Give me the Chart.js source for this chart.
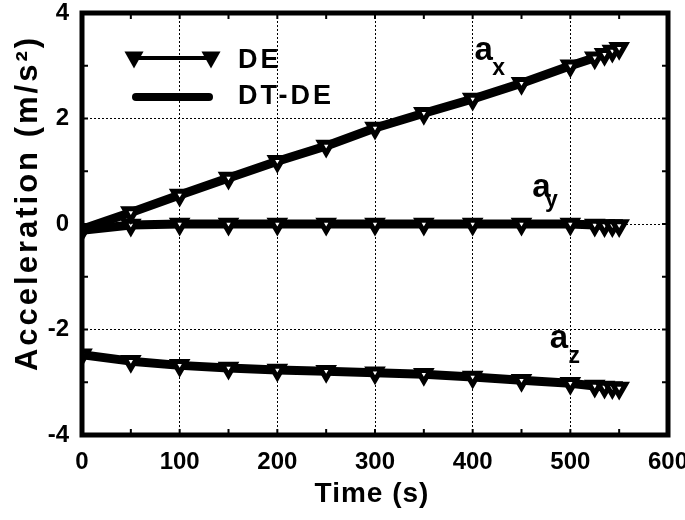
<!DOCTYPE html>
<html>
<head>
<meta charset="utf-8">
<script src="https://cdn.jsdelivr.net/npm/chart.js@4/dist/chart.umd.min.js"></script>
<style>
  html, body { margin: 0; padding: 0; background: #fff; }
</style>
</head>
<body>
<canvas id="myChart" width="685" height="520"></canvas>
<script>
const FONT = "'Liberation Sans', Arial, Helvetica, sans-serif";

// time samples (s) where the DE markers sit; the DT-DE curve runs through the same values
const time = [0, 50, 100, 150, 200, 250, 300, 350, 400, 450, 500, 525, 535, 543, 550];
const ax = [-0.1, 0.22, 0.55, 0.87, 1.19, 1.48, 1.82, 2.1, 2.37, 2.67, 3.0, 3.15, 3.22, 3.28, 3.33];
const ay = [-0.12, -0.02, 0, 0, 0, 0, 0, 0, 0, 0, 0, -0.02, -0.03, -0.03, -0.03];
const az = [-2.48, -2.6, -2.68, -2.73, -2.77, -2.79, -2.82, -2.85, -2.9, -2.96, -3.02, -3.07, -3.09, -3.1, -3.11];

const xTicks = [0, 100, 200, 300, 400, 500, 600];
const yTicks = [-4, -2, 0, 2, 4];
const seriesNames = ["DE", "DT-DE"];
const components = ["x", "y", "z"];

// where the a_x / a_y / a_z labels go, in data units
const labelSpots = [
  { x: 402, y: 3.11, sx: 420, sy: 2.82 },
  { x: 461, y: 0.51, sx: 474, sy: 0.32 },
  { x: 479, y: -2.35, sx: 498, sy: -2.64 },
];

function pts(ys) {
  return time.map((t, i) => ({ x: t, y: ys[i] }));
}

const comps = [ax, ay, az];
const datasets = [];
comps.forEach((c) => {
  datasets.push({
    label: seriesNames[0],
    data: pts(c),
    borderColor: "#000",
    borderWidth: 3,
    pointStyle: "triangle",
    rotation: 180,
    pointRadius: 7.5,
    pointBorderWidth: 5,
    pointBackgroundColor: "#fff",
    pointBorderColor: "#000",
    tension: 0,
    order: 0,
  });
});
comps.forEach((c) => {
  datasets.push({
    label: seriesNames[1],
    data: pts(c),
    borderColor: "#000",
    borderWidth: 9,
    borderCapStyle: "round",
    borderJoinStyle: "round",
    pointRadius: 0,
    tension: 0,
    order: 1,
  });
});

function downTri(ctx, cx, cy, w, h) {
  ctx.beginPath();
  ctx.moveTo(cx - w / 2, cy - h / 2);
  ctx.lineTo(cx + w / 2, cy - h / 2);
  ctx.lineTo(cx, cy + h / 2);
  ctx.closePath();
  ctx.fill();
}

function noPad(s) {
  s.paddingLeft = 0; s.paddingRight = 0; s.paddingTop = 0; s.paddingBottom = 0;
}

const extras = {
  id: "extras",
  afterDatasetsDraw(chart) {
    const { ctx, chartArea: a, scales } = chart;
    const x = scales.x, y = scales.y;
    ctx.save();
    ctx.strokeStyle = "#000";
    ctx.fillStyle = "#000";

    // small inward ticks on all four sides
    ctx.lineWidth = 2;
    ctx.beginPath();
    for (let v = 0; v <= 600; v += 50) {
      const px = x.getPixelForValue(v);
      ctx.moveTo(px, a.bottom); ctx.lineTo(px, a.bottom - 6);
      ctx.moveTo(px, a.top); ctx.lineTo(px, a.top + 6);
    }
    for (let v = -4; v <= 4; v += 1) {
      const py = y.getPixelForValue(v);
      ctx.moveTo(a.left, py); ctx.lineTo(a.left + 6, py);
      ctx.moveTo(a.right, py); ctx.lineTo(a.right - 6, py);
    }
    ctx.stroke();

    // frame
    ctx.lineWidth = 5;
    ctx.strokeRect(a.left, a.top, a.right - a.left, a.bottom - a.top);

    // component labels
    ctx.textAlign = "left";
    ctx.textBaseline = "alphabetic";
    labelSpots.forEach((s, i) => {
      ctx.font = "bold 33px " + FONT;
      ctx.fillText("a", x.getPixelForValue(s.x), y.getPixelForValue(s.y));
      ctx.font = "bold 23px " + FONT;
      ctx.fillText(components[i], x.getPixelForValue(s.sx), y.getPixelForValue(s.sy));
    });

    // legend
    const lx0 = 134, lx1 = 211;
    ctx.lineWidth = 4;
    ctx.beginPath(); ctx.moveTo(lx0, 58); ctx.lineTo(lx1, 58); ctx.stroke();
    downTri(ctx, lx0, 60, 19, 17);
    downTri(ctx, lx1, 60, 19, 17);
    ctx.lineWidth = 8;
    ctx.lineCap = "round";
    ctx.beginPath(); ctx.moveTo(lx0 + 2, 97); ctx.lineTo(lx1 - 2, 97); ctx.stroke();
    ctx.font = "bold 27px " + FONT;
    ctx.letterSpacing = "3px";
    ctx.fillText(seriesNames[0], 238, 68);
    ctx.fillText(seriesNames[1], 238, 104);

    // axis titles
    ctx.font = "bold 28px " + FONT;
    ctx.letterSpacing = "1px";
    ctx.textAlign = "center";
    ctx.fillText("Time (s)", 372, 502);
    ctx.translate(37, 203);
    ctx.rotate(-Math.PI / 2);
    ctx.font = "bold 31px " + FONT;
    ctx.letterSpacing = "3px";
    ctx.fillText("Acceleration (m/s\u00B2)", 0, 0);
    ctx.restore();
  },
};

const ctx = document.getElementById("myChart").getContext("2d");
const myChart = new Chart(ctx, {
  type: "line",
  data: { datasets: datasets },
  options: {
    responsive: false,
    animation: false,
    layout: { padding: { top: 13, right: 17, left: 0, bottom: 0 } },
    plugins: {
      legend: { display: false },
      tooltip: { enabled: false },
    },
    scales: {
      x: {
        type: "linear",
        min: 0,
        max: 600,
        afterFit: (s) => { s.height = 85; noPad(s); },
        afterBuildTicks: (s) => { s.ticks = xTicks.map((v) => ({ value: v })); },
        ticks: {
          color: "#000",
          padding: 13,
          maxRotation: 0,
          font: { family: FONT, size: 24, weight: "bold" },
        },
        grid: { color: "#000", lineWidth: 1, drawTicks: false },
        border: { display: false, dash: [2, 2] },
      },
      y: {
        type: "linear",
        min: -4,
        max: 4,
        afterFit: (s) => { s.width = 82; noPad(s); },
        afterBuildTicks: (s) => { s.ticks = yTicks.map((v) => ({ value: v })); },
        ticks: {
          color: "#000",
          padding: 13,
          font: { family: FONT, size: 24, weight: "bold" },
        },
        grid: { color: "#000", lineWidth: 1, drawTicks: false },
        border: { display: false, dash: [2, 2] },
      },
    },
  },
  plugins: [extras],
});
</script>
</body>
</html>
